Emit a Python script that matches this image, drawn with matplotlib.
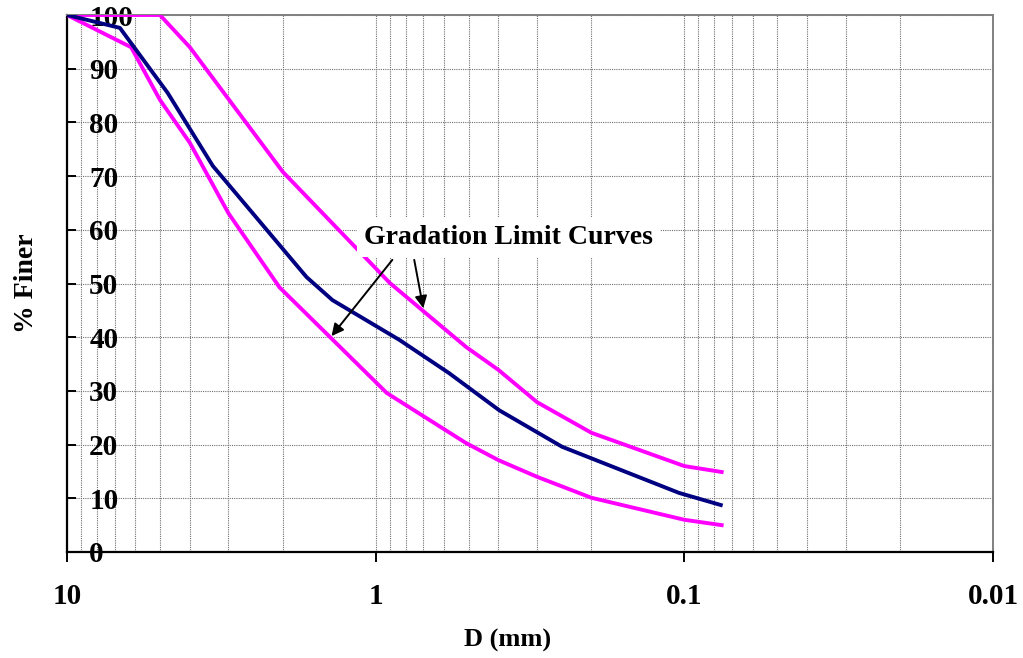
import matplotlib
matplotlib.use("Agg")
import matplotlib.pyplot as plt
from matplotlib.ticker import FixedLocator, FixedFormatter, LogLocator, NullFormatter

# ---- data ----
sample_d = [10, 6.74, 4.72, 3.37, 1.675, 1.38, 0.838, 0.578, 0.398, 0.249, 0.104, 0.0762]
sample_p = [100, 97.6, 85.5, 71.9, 51.2, 46.9, 39.5, 33.3, 26.4, 19.6, 11.0, 8.75]

upper_d = [10, 5.0, 4.0, 2.0, 0.9, 0.51, 0.4, 0.3, 0.2, 0.1, 0.0757]
upper_p = [100, 100, 94.0, 70.8, 50.1, 38.2, 33.9, 27.9, 22.2, 16.0, 14.9]

lower_d = [10, 6.2, 5.0, 4.0, 3.0, 2.05, 0.92, 0.67, 0.51, 0.4, 0.3, 0.2, 0.1, 0.0757]
lower_p = [100, 94.0, 84.2, 76.2, 63.1, 49.3, 29.6, 24.6, 20.3, 17.1, 14.0, 10.1, 6.0, 5.0]

x_ticks = [10, 1, 0.1, 0.01]
x_labels = ["10", "1", "0.1", "0.01"]
y_ticks = [0, 10, 20, 30, 40, 50, 60, 70, 80, 90, 100]
y_labels = [str(v) for v in y_ticks]

annot_text = "Gradation Limit Curves"
annot_pos = (0.372, 58.5)
arrow_tails = [(0.883, 54.4), (0.750, 54.4)]
arrow_tips = [(1.39, 40.2), (0.701, 45.4)]

plt.rcParams['font.family'] = ['Liberation Serif', 'DejaVu Serif']
plt.rcParams['font.weight'] = 'bold'

fig = plt.figure(figsize=(10.23, 6.58), dpi=100)
ax = fig.add_axes([67/1023, 1-552/658, (993-67)/1023, (552-15)/658])

ax.set_xscale('log')
ax.set_xlim(10, 0.01)
ax.set_ylim(0, 100)

# grid
ax.xaxis.set_major_locator(FixedLocator(x_ticks))
ax.xaxis.set_major_formatter(FixedFormatter(x_labels))
ax.xaxis.set_minor_locator(LogLocator(base=10, subs=range(2, 10), numticks=20))
ax.xaxis.set_minor_formatter(NullFormatter())
ax.yaxis.set_major_locator(FixedLocator(y_ticks))
ax.yaxis.set_major_formatter(FixedFormatter(y_labels))

gstyle = dict(color='#707070', linestyle=(0, (1, 1)), linewidth=0.8)
ax.grid(True, which='major', axis='both', **gstyle)
ax.grid(True, which='minor', axis='x', **gstyle)
ax.set_axisbelow(True)

# curves
ax.plot(upper_d, upper_p, color='#FF00FF', lw=2.8, zorder=3)
ax.plot(lower_d, lower_p, color='#FF00FF', lw=2.8, zorder=3)
ax.plot(sample_d, sample_p, color='#000080', lw=2.8, zorder=4)

# spines
for s in ['left', 'bottom']:
    ax.spines[s].set_color('black')
    ax.spines[s].set_linewidth(1.6)
for s in ['top', 'right']:
    ax.spines[s].set_color('#808080')
    ax.spines[s].set_linewidth(1.4)

# ticks
ax.tick_params(axis='x', which='major', direction='out', length=7, width=1.4,
               labelsize=21, pad=15, colors='black')
ax.tick_params(axis='x', which='minor', length=0)
ax.tick_params(axis='y', which='major', direction='in', length=6.5, width=1.4,
               labelsize=21, pad=-16)
for lab in ax.get_yticklabels():
    lab.set_horizontalalignment('left')
    lab.set_fontweight('bold')
for lab in ax.get_xticklabels():
    lab.set_fontweight('bold')

ax.set_xlabel("D (mm)", fontsize=19, fontweight='bold', labelpad=15)
ax.xaxis.set_label_coords((508 - 67) / 926, -(640 - 552) / 537 + 0.0)
ax.xaxis.label.set_verticalalignment('center')
ax.set_ylabel("% Finer", fontsize=20, fontweight='bold', labelpad=20)

# annotation
ax.text(annot_pos[0], annot_pos[1], annot_text, ha='center', va='center',
        fontsize=20, fontweight='bold', zorder=6,
        bbox=dict(boxstyle='square,pad=0.25', fc='white', ec='none'))
for tail, tip in zip(arrow_tails, arrow_tips):
    ax.annotate('', xy=tip, xytext=tail, zorder=7,
                arrowprops=dict(arrowstyle='-|>', color='black', lw=1.4,
                                mutation_scale=18, shrinkA=0, shrinkB=0))

fig.savefig("out.png", dpi=100)
